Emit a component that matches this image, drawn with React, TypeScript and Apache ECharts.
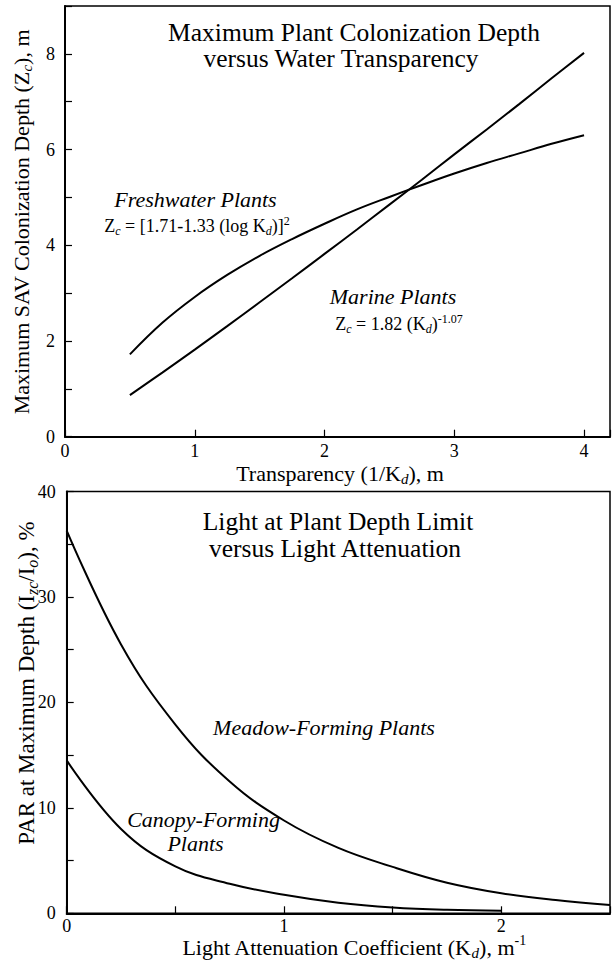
import React, { useEffect, useRef } from "react";
import * as echarts from "echarts";

// ---- Top panel data (Transparency 1/Kd, m  vs  colonization depth Zc, m)
const transparency = [0.5, 0.75, 1, 1.25, 1.5, 1.75, 2, 2.25, 2.5, 2.75, 3, 3.25, 3.5, 3.75, 4];
const freshwaterDepth = [1.72, 2.38, 2.92, 3.38, 3.78, 4.13, 4.45, 4.75, 5.01, 5.26, 5.5, 5.72, 5.92, 6.12, 6.3];
const marineDepth = [0.87, 1.34, 1.82, 2.31, 2.81, 3.31, 3.82, 4.33, 4.85, 5.37, 5.9, 6.42, 6.95, 7.49, 8.02];

// ---- Bottom panel data (Kd, m-1  vs  PAR at max depth, %)
const meadowKd = [0, 0.25, 0.5, 0.75, 1, 1.25, 1.5, 1.75, 2, 2.25, 2.5];
const meadowPAR = [36.3, 25.5, 17.9, 12.5, 8.8, 6.2, 4.4, 2.9, 1.9, 1.25, 0.78];
const canopyKd = [0, 0.25, 0.5, 0.75, 1, 1.25, 1.5, 1.75, 2];
const canopyPAR = [14.5, 8.0, 4.45, 2.8, 1.75, 1.0, 0.55, 0.33, 0.25];

// ---- Axis ranges / tick steps
const topX = { min: 0, max: 4.2, step: 1 };
const topY = { min: 0, max: 9, step: 1, labelEvery: 2 };
const botX = { min: 0, max: 2.5, step: 0.5 };
const botY = { min: 0, max: 40, step: 5, labelEvery: 10 };

// ---- Texts
const topTitle = ["Maximum Plant Colonization Depth", "versus Water Transparency"];
const botTitle = ["Light at Plant Depth Limit", "versus Light Attenuation"];
const freshLabel = "Freshwater Plants";
const freshFormula = "Z{sub|c} = [1.71-1.33 (log K{sub|d})]{sup|2}";
const marineLabel = "Marine Plants";
const marineFormula = "Z{sub|c} = 1.82 (K{sub|d}){sup|-1.07}";
const meadowLabel = "Meadow-Forming Plants";
const canopyLabel = "Canopy-Forming\n{shift|Plants}";
const topXName = "Transparency (1/K{sub|d}), m";
const topYName = "Maximum SAV Colonization Depth (Z{sub|c}), m";
const botXName = "Light Attenuation Coefficient (K{sub|d}), m{sup|-1}";
const botYName = "PAR at Maximum Depth (I{sub|zc}/I{sub|o}), %";

const FONT = "Liberation Serif, Times New Roman, serif";

function txt(x: number, y: number, text: string, F: number, italic = false, rotation = 0, lh = F) {
  const fs = Math.round(F * 0.68);
  const ps = Math.round(F * 0.65);
  const sDown = Math.round(F * 0.25);
  const sUp = Math.round(F * 0.3);
  return {
    type: "text",
    x,
    y,
    rotation,
    silent: true,
    style: {
      text,
      fontSize: F,
      fontFamily: FONT,
      fontStyle: italic ? "italic" : "normal",
      fill: "#000",
      lineHeight: lh,
      align: "center",
      verticalAlign: "middle",
      rich: {
        sub: {
          fontSize: fs,
          fontFamily: FONT,
          fontStyle: "italic",
          fill: "#000",
          lineHeight: 4,
          padding: [sDown * 2, 0, 0, 0],
        },
        sup: {
          fontSize: ps,
          fontFamily: FONT,
          fontStyle: "normal",
          fill: "#000",
          lineHeight: 4,
          padding: [0, 0, sUp * 2, 0],
        },
        shift: {
          fontSize: F,
          fontFamily: FONT,
          fontStyle: italic ? "italic" : "normal",
          fill: "#000",
          lineHeight: lh,
          padding: [0, 16, 0, 0],
        },
      },
    },
  };
}

function axisCommon(gridIndex: number) {
  return {
    gridIndex,
    type: "value",
    axisLine: { show: true, onZero: false, lineStyle: { color: "#000", width: 2 } },
    axisTick: { show: true, inside: true, length: 7, lineStyle: { color: "#000", width: 1.2 } },
    splitLine: { show: false },
  };
}

const labelStyle = { color: "#000", fontSize: 18, fontFamily: FONT, lineHeight: 12 };

export default function App() {
  const ref = useRef<HTMLDivElement>(null);
  useEffect(() => {
    if (!ref.current) return;
    const chart = echarts.init(ref.current, null, { renderer: "svg" });
    const lineStyle = { color: "#000", width: 2 };
    chart.setOption({
      animation: false,
      backgroundColor: "#fff",
      grid: [
        { left: 65, top: 6, width: 550, height: 430.7, show: true, borderColor: "#000", borderWidth: 1.5, backgroundColor: "transparent" },
        { left: 66.7, top: 491.5, width: 550, height: 421.8, show: true, borderColor: "#000", borderWidth: 1.5, backgroundColor: "transparent" },
      ],
      xAxis: [
        {
          ...axisCommon(0),
          min: topX.min,
          max: topX.max,
          interval: topX.step,
          axisLabel: { ...labelStyle, margin: 8, formatter: (v: number) => (Number.isInteger(v) ? String(v) : "") },
        },
        {
          ...axisCommon(1),
          min: botX.min,
          max: botX.max,
          interval: botX.step,
          axisLabel: { ...labelStyle, margin: 7, formatter: (v: number) => (Number.isInteger(v) ? String(v) : "") },
        },
      ],
      yAxis: [
        {
          ...axisCommon(0),
          min: topY.min,
          max: topY.max,
          interval: topY.step,
          axisLabel: { ...labelStyle, margin: 10, formatter: (v: number) => (v % topY.labelEvery === 0 ? String(v) : "") },
        },
        {
          ...axisCommon(1),
          min: botY.min,
          max: botY.max,
          interval: botY.step,
          axisLabel: { ...labelStyle, margin: 11, formatter: (v: number) => (v % botY.labelEvery === 0 ? String(v) : "") },
        },
      ],
      series: [
        {
          type: "line", xAxisIndex: 0, yAxisIndex: 0, symbol: "none", smooth: 0.4, lineStyle, silent: true,
          data: transparency.map((x, i) => [x, freshwaterDepth[i]]),
        },
        {
          type: "line", xAxisIndex: 0, yAxisIndex: 0, symbol: "none", smooth: 0.4, lineStyle, silent: true,
          data: transparency.map((x, i) => [x, marineDepth[i]]),
        },
        {
          type: "line", xAxisIndex: 1, yAxisIndex: 1, symbol: "none", smooth: 0.4, lineStyle, silent: true,
          data: meadowKd.map((x, i) => [x, meadowPAR[i]]),
        },
        {
          type: "line", xAxisIndex: 1, yAxisIndex: 1, symbol: "none", smooth: 0.4, lineStyle, silent: true,
          data: canopyKd.map((x, i) => [x, canopyPAR[i]]),
        },
      ],
      graphic: [
        txt(354, 32, topTitle[0], 25.5),
        txt(341, 58.5, topTitle[1], 25.5),
        txt(338, 521.5, botTitle[0], 25.5),
        txt(335, 548.5, botTitle[1], 25.5),
        txt(195.5, 199.5, freshLabel, 22, true),
        txt(197, 225.5, freshFormula, 18),
        txt(393, 296, marineLabel, 22, true),
        txt(399, 324, marineFormula, 18),
        txt(324, 727, meadowLabel, 22, true),
        txt(203.5, 831, canopyLabel, 22, true, 0, 24),
        txt(340, 473, topXName, 22, false, 0, 18),
        txt(354, 947, botXName, 22, false, 0, 18),
        txt(21, 222, topYName, 22, false, Math.PI / 2),
        txt(26, 683, botYName, 23, false, Math.PI / 2),
      ],
    });
    return () => chart.dispose();
  }, []);
  return (
    <div
      ref={ref}
      style={{ position: "absolute", left: 0, top: 0, width: 613, height: 961, background: "#fff" }}
    />
  );
}
